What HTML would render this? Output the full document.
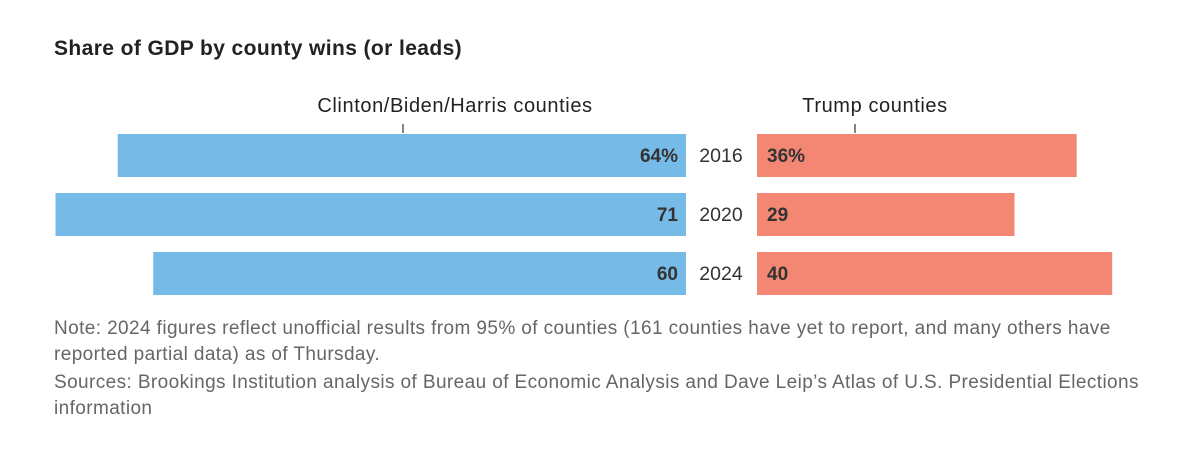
<!DOCTYPE html>
<html><head><meta charset="utf-8"><style>
body{margin:0;width:1202px;height:454px;background:#fff;font-family:"Liberation Sans",sans-serif;overflow:hidden;position:relative}
.t{position:absolute;white-space:nowrap}
.note{position:absolute;left:54px;color:#666;font-size:19px;letter-spacing:0.4px;line-height:26px;width:1105px}
</style></head><body>
<div class="t" style="left:54px;top:37px;font-size:21px;letter-spacing:0.4px;font-weight:bold;color:#222">Share of GDP by county wins (or leads)</div>
<svg id="c" width="1202" height="320" style="position:absolute;left:0;top:0"></svg>
<div class="note" style="top:316px">Note: 2024 figures reflect unofficial results from 95% of counties (161 counties have yet to report, and many others have reported partial data) as of Thursday.</div>
<div class="note" style="top:370px">Sources: Brookings Institution analysis of Bureau of Economic Analysis and Dave Leip’s Atlas of U.S. Presidential Elections information</div>
<script>
const years=["2016","2020","2024"];
const dem=[64,71,60];
const rep=[36,29,40];
const ns="http://www.w3.org/2000/svg";
const svg=document.getElementById('c');
const scale=8.88, leftEdge=686, rightStart=757, y0=134, step=59, bh=43;
function xL(v){return leftEdge-v*scale;}
function xR(v){return rightStart+v*scale;}
function yB(i){return y0+i*step;}
function mk(tag,attrs,txt){const e=document.createElementNS(ns,tag);for(const k in attrs)e.setAttribute(k,attrs[k]);if(txt!==undefined)e.textContent=txt;svg.appendChild(e);return e;}
let e;
e=mk('text',{x:455,y:112,'text-anchor':'middle','font-size':20,'letter-spacing':0.6,fill:'#222','font-family':'Liberation Sans'},'Clinton/Biden/Harris counties');


e=mk('line',{x1:403,x2:403,y1:124,y2:133,stroke:'#333','stroke-width':1.2});


e=mk('text',{x:875,y:112,'text-anchor':'middle','font-size':20,'letter-spacing':0.6,fill:'#222','font-family':'Liberation Sans'},'Trump counties');


e=mk('line',{x1:855,x2:855,y1:124,y2:133,stroke:'#333','stroke-width':1.2});


years.forEach((yr,i)=>{
  const y=yB(i);
  e=mk('rect',{x:xL(dem[i]),y:y,width:leftEdge-xL(dem[i]),height:bh,fill:'#76bbe8'});
  
  
  e=mk('rect',{x:rightStart,y:y,width:xR(rep[i])-rightStart,height:bh,fill:'#f48774'});
  
  
  e=mk('text',{x:721,y:y+28,'text-anchor':'middle','font-size':19.5,fill:'#333','font-family':'Liberation Sans'},yr);
  
  
  e=mk('text',{x:678,y:y+28,'text-anchor':'end','font-size':19,'font-weight':'bold',fill:'#333','font-family':'Liberation Sans'},dem[i]+(i===0?'%':''));
  
  
  e=mk('text',{x:767,y:y+28,'text-anchor':'start','font-size':19,'font-weight':'bold',fill:'#333','font-family':'Liberation Sans'},rep[i]+(i===0?'%':''));
  
  
});
</script>
</body></html>
